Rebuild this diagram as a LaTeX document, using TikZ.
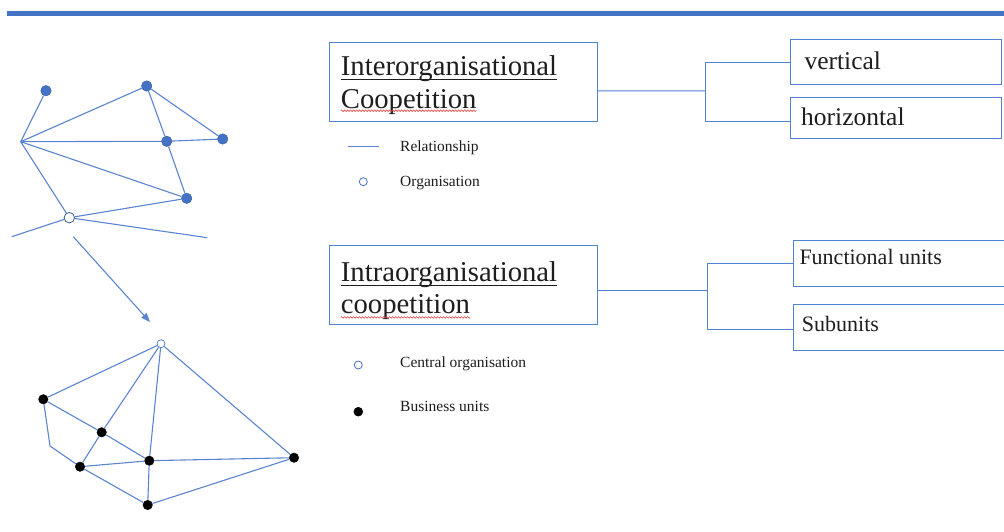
\documentclass[tikz,border=0pt]{standalone}
\usepackage{fontspec}
\setmainfont{Liberation Serif}
\usetikzlibrary{arrows.meta,decorations.pathmorphing}

\definecolor{accent}{HTML}{4472C4}
\definecolor{edgeblue}{HTML}{5A84CF}
\definecolor{boxblue}{HTML}{5282D2}
\definecolor{ringblue}{HTML}{3B5A8E}
\definecolor{spellred}{HTML}{E2413B}
\definecolor{ink}{HTML}{1E1E1E}

\begin{document}
\begin{tikzpicture}[x=1pt,y=-1pt,
  link/.style={draw=edgeblue, line width=1.1pt},
  member/.style={circle, fill=accent, draw=accent!80!black, line width=0.4pt,
                 minimum size=10.5pt, inner sep=0pt},
  openorg/.style={circle, fill=white, draw=ringblue, line width=0.8pt,
                  minimum size=10.5pt, inner sep=0pt},
  centre/.style={circle, fill=white, draw=edgeblue, line width=0.8pt,
                 minimum size=8pt, inner sep=0pt},
  unit/.style={circle, fill=black, draw=black, minimum size=9.5pt, inner sep=0pt},
  frame/.style={draw=boxblue, line width=1pt, inner sep=0pt},
  title/.style={anchor=base west, inner sep=0pt, text=ink,
                font=\fontsize{28.7}{32.7}\selectfont},
  boxtext/.style={anchor=base west, inner sep=0pt, text=ink},
  legend/.style={anchor=base west, inner sep=0pt, text=ink,
                 font=\fontsize{15.5}{18}\selectfont},
  tree/.style={draw=boxblue, line width=1pt},
  spellmark/.style={draw=spellred, line width=0.6pt, decorate,
                    decoration={snake, amplitude=0.8pt, segment length=3pt}},
]
\useasboundingbox (0,0) rectangle (1004,532);
\clip (0,0) rectangle (1004,532);

% heading rule
\fill[accent] (7,11) rectangle (1004,16.5);

% ---------- inter-organisational network ----------
\coordinate (hub) at (20.7,141.7);
\node[member] (a) at (46,90.7) {};
\node[member] (b) at (146.7,86) {};
\node[member] (c) at (166.7,141.3) {};
\node[member] (d) at (222.7,139) {};
\node[member] (e) at (186.7,198.3) {};
\node[openorg] (o) at (69.3,217.7) {};
\coordinate (looseL) at (11.7,236.7);
\coordinate (looseR) at (207.3,237.7);

\draw[link] (hub) -- (a);
\draw[link] (hub) -- (b);
\draw[link] (hub) -- (c);
\draw[link] (c) -- (d);
\draw[link] (hub) -- (e);
\draw[link] (hub) -- (o);
\draw[link] (b) -- (c);
\draw[link] (b) -- (d);
\draw[link] (c) -- (e);
\draw[link] (o) -- (e);
\draw[link] (o) -- (looseL);
\draw[link] (o) -- (looseR);

% transition arrow
\coordinate (arrowtail) at (73.3,236.7);
\coordinate (arrowtip) at (150,322);
\draw[link, -{Triangle[length=9pt,width=7pt]}] (arrowtail) -- (arrowtip);

% ---------- intra-organisational network ----------
\node[centre] (hq) at (161,343.7) {};
\node[unit] (u1) at (43.3,399.3) {};
\node[unit] (u2) at (101.7,432.3) {};
\node[unit] (u3) at (149.3,460.7) {};
\node[unit] (u4) at (80,466.7) {};
\node[unit] (u5) at (147.7,505) {};
\node[unit] (u6) at (294,457.7) {};
\coordinate (kink) at (50,446);

\draw[link] (hq) -- (u1);
\draw[link] (hq) -- (u2);
\draw[link] (u2) -- (u4);
\draw[link] (hq) -- (u3);
\draw[link] (u3) -- (u5);
\draw[link] (hq) -- (u6);
\draw[link] (u1) -- (u2);
\draw[link] (u2) -- (u3);
\draw[link] (u1) -- (kink) -- (u4);
\draw[link] (u4) -- (u3);
\draw[link] (u3) -- (u6);
\draw[link] (u4) -- (u5);
\draw[link] (u5) -- (u6);

% ---------- inter-organisational block ----------
\node[frame, minimum width=268pt, minimum height=78.3pt] (inter) at (463.3,81.9) {};
\node[title] (interA) at (340.7,75.7) {Interorganisational};
\node[title] (interB) at (340.7,108.3) {Coopetition};
\draw[ink, line width=0.9pt] ([yshift=-3.6pt]interA.base west) -- ([yshift=-3.6pt]interA.base east);
\path[spellmark] ([yshift=-2.4pt]interB.base west) -- ([yshift=-2.4pt]interB.base east);

\node[frame, minimum width=211.7pt, minimum height=45.7pt] (vert) at (895.85,62.15) {};
\node[frame, minimum width=211.7pt, minimum height=40.6pt] (horiz) at (895.85,118) {};
\node[boxtext, font=\fontsize{25.5}{30}\selectfont] (vertT) at (804.3,69.3) {vertical};
\node[boxtext, font=\fontsize{25.5}{30}\selectfont] (horizT) at (801,125.7) {horizontal};

\coordinate (forkA) at (705.7,91);
\draw[tree] ([yshift=-9pt]inter.east) -- (forkA);
\draw[tree] (forkA) |- (vert.west);
\draw[tree] (forkA) |- ([yshift=-3.7pt]horiz.west);

% legend (relationship / organisation)
\coordinate (keyL) at (348.3,146);
\coordinate (keyR) at (379.3,146);
\draw[link, line width=0.9pt] (keyL) -- (keyR);
\node[legend] (relT) at (400,151.7) {Relationship};
\node[centre, minimum size=8pt, draw=accent] (orgKey) at (363.3,181.7) {};
\node[legend] (orgT) at (400,186) {Organisation};

% ---------- intra-organisational block ----------
\node[frame, minimum width=268pt, minimum height=79pt] (intra) at (463.3,285.2) {};
\node[title] (intraA) at (340.7,281.7) {Intraorganisational};
\node[title] (intraB) at (340.7,313.8) {coopetition};
\draw[ink, line width=0.9pt] ([yshift=-3.6pt]intraA.base west) -- ([yshift=-3.6pt]intraA.base east);
\path[spellmark] ([yshift=-3.6pt]intraB.base west) -- ([yshift=-3.6pt]intraB.base east);

\node[frame, minimum width=216.7pt, minimum height=46.7pt] (func) at (901.65,263.35) {};
\node[frame, minimum width=216.7pt, minimum height=46.7pt] (sub) at (901.65,327.35) {};
\node[boxtext, font=\fontsize{22}{26}\selectfont] (funcT) at (799.3,264.3) {Functional units};
\node[boxtext, font=\fontsize{22}{26}\selectfont] (subT) at (801.7,331.7) {Subunits};

\coordinate (forkB) at (707.3,290);
\draw[tree] ([yshift=-4.8pt]intra.east) -- (forkB);
\draw[tree] (forkB) |- (func.west);
\draw[tree] (forkB) |- ([yshift=-2pt]sub.west);

% legend (central organisation / business units)
\node[centre, minimum size=8pt, draw=accent] (hqKey) at (358.3,365) {};
\node[legend] (hqT) at (400,367.3) {Central organisation};
\node[unit, minimum size=9pt] (buKey) at (358.3,411.7) {};
\node[legend] (buT) at (400,411.7) {Business units};
\end{tikzpicture}
\end{document}
